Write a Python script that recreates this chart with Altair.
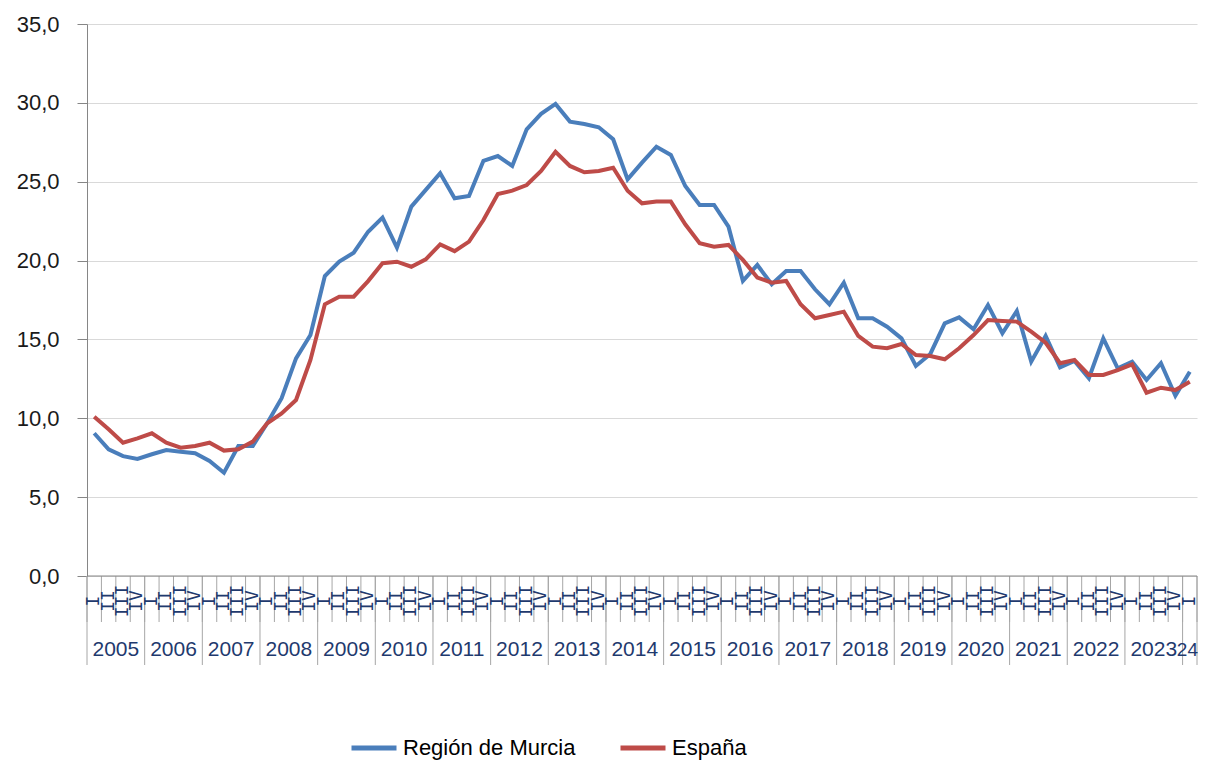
import altair as alt
import pandas as pd

# ---------------- data ----------------
years = [str(y) for y in range(2005, 2025)]
quarters = ["I", "II", "III", "IV"]
series_names = ["Región de Murcia", "España"]

murcia = [9.05, 8.03, 7.6, 7.42, 7.72, 7.99, 7.88, 7.78, 7.29, 6.55,
          8.24, 8.24, 9.68, 11.27, 13.8, 15.28, 19.02, 19.93, 20.5, 21.83,
          22.72, 20.82, 23.42, 24.48, 25.54, 23.95, 24.1, 26.33, 26.63, 26.0,
          28.32, 29.3, 29.93, 28.81, 28.66, 28.45, 27.69, 25.15, 26.21, 27.22,
          26.7, 24.73, 23.53, 23.53, 22.15, 18.71, 19.72, 18.5, 19.34, 19.34,
          18.18, 17.23, 18.6, 16.34, 16.34, 15.81, 15.07, 13.32, 14.08, 16.02,
          16.4, 15.64, 17.18, 15.39, 16.8, 13.59, 15.22, 13.23, 13.63, 12.54,
          15.07, 13.17, 13.59, 12.43, 13.49, 11.43, 12.95]

espana = [10.1, 9.3, 8.45, 8.73, 9.05, 8.45, 8.14, 8.24, 8.45, 7.95,
          8.03, 8.52, 9.68, 10.31, 11.16, 13.7, 17.23, 17.71, 17.71, 18.7,
          19.83, 19.93, 19.61, 20.08, 21.03, 20.6, 21.2, 22.57, 24.22, 24.43,
          24.79, 25.68, 26.9, 26.0, 25.6, 25.68, 25.89, 24.43, 23.63, 23.74,
          23.74, 22.3, 21.1, 20.88, 20.99, 20.04, 18.92, 18.6, 18.71, 17.23,
          16.34, 16.55, 16.76, 15.22, 14.54, 14.44, 14.71, 14.01, 13.95, 13.74,
          14.44, 15.28, 16.23, 16.17, 16.13, 15.49, 14.79, 13.49, 13.7, 12.75,
          12.75, 13.06, 13.42, 11.62, 11.94, 11.79, 12.32]

y_ticks = [0, 5, 10, 15, 20, 25, 30, 35]

# ---------------- tables ----------------
n = len(murcia)
rows = []
for i in range(n):
    rows.append({"idx": i + 0.5, "serie": series_names[0], "valor": murcia[i]})
    rows.append({"idx": i + 0.5, "serie": series_names[1], "valor": espana[i]})
df = pd.DataFrame(rows)

qdf = pd.DataFrame({"idx": [i + 0.5 for i in range(n)],
                    "q": [quarters[i % 4] for i in range(n)]})
qticks = pd.DataFrame({"pos": list(range(n + 1))})
ybounds = pd.DataFrame({"pos": sorted(set(list(range(0, n, 4)) + [n]))})

full_c, full_l, part_c, part_l = [], [], [], []
for k, b in enumerate(range(0, n, 4)):
    e = min(b + 4, n)
    if e - b == 4:
        full_c.append((b + e) / 2)
        full_l.append(years[k])
    else:
        part_c.append(e)                 # right-aligned at the end of the axis
        part_l.append(years[k][2:])      # only the last digits are visible
ydf = pd.DataFrame({"c": full_c, "label": full_l})
ydf_part = pd.DataFrame({"c": part_c, "label": part_l})

W, H = 1110, 552
NAVY = "#1F3A6E"
GREY = "#A6A6A6"

xscale = alt.Scale(domain=[0, n], nice=False, zero=False)
yscale = alt.Scale(domain=[0, 35], nice=False)

lines = alt.Chart(df).mark_line(strokeWidth=4).encode(
    x=alt.X("idx:Q", scale=xscale, axis=None),
    y=alt.Y("valor:Q", scale=yscale, title=None,
            axis=alt.Axis(values=y_ticks,
                          labelExpr="replace(format(datum.value, '.1f'), '.', ',')",
                          labelFont="Liberation Sans", labelFontSize=22,
                          labelColor="#1a1a1a", labelPadding=18,
                          tickSize=10, tickColor="#868686", domainColor="#868686",
                          gridColor="#D9D9D9", gridWidth=1.2)),
    color=alt.Color("serie:N",
                    scale=alt.Scale(domain=series_names, range=["#4A7EBB", "#BE4B48"]),
                    legend=alt.Legend(orient="none", legendX=262, legendY=699,
                                      direction="horizontal", title=None,
                                      symbolType="stroke", symbolStrokeWidth=5,
                                      symbolSize=2025, labelFont="Liberation Sans",
                                      labelFontSize=22, labelColor="#000000",
                                      labelLimit=400,
                                      columnPadding=34, labelOffset=4)),
)

qrules = alt.Chart(qticks).mark_rule(color=GREY, strokeWidth=1).encode(
    x=alt.X("pos:Q", scale=xscale, axis=None), y=alt.value(H), y2=alt.value(H + 46))

yrules = alt.Chart(ybounds).mark_rule(color=GREY, strokeWidth=1).encode(
    x=alt.X("pos:Q", scale=xscale, axis=None), y=alt.value(H), y2=alt.value(H + 89))

baseline = alt.Chart(pd.DataFrame({"pos": [0, n]})).mark_line(color="#868686", strokeWidth=1).encode(
    x=alt.X("pos:Q", scale=xscale, axis=None), y=alt.value(H))

qtext = alt.Chart(qdf).mark_text(angle=270, font="DejaVu Sans Mono", fontSize=18,
                                 color=NAVY, align="center", baseline="middle").encode(
    x=alt.X("idx:Q", scale=xscale, axis=None), y=alt.value(H + 25), text="q:N")

ytext = alt.Chart(ydf).mark_text(font="Liberation Sans", fontSize=21, color=NAVY,
                                 align="center", baseline="middle").encode(
    x=alt.X("c:Q", scale=xscale, axis=None), y=alt.value(H + 74), text="label:N")

ytext_part = alt.Chart(ydf_part).mark_text(font="Liberation Sans", fontSize=19, color=NAVY,
                                           align="right", baseline="middle", dx=1).encode(
    x=alt.X("c:Q", scale=xscale, axis=None), y=alt.value(H + 74), text="label:N")

chart = alt.layer(lines, qrules, yrules, baseline, qtext, ytext, ytext_part).properties(
    width=W, height=H,
    autosize=alt.AutoSizeParams(type="none"),
    padding={"left": 79, "top": 16, "right": 1, "bottom": 186},
).configure_view(stroke=None)

chart.save("out.html", embed_options={"renderer": "svg", "actions": False})
